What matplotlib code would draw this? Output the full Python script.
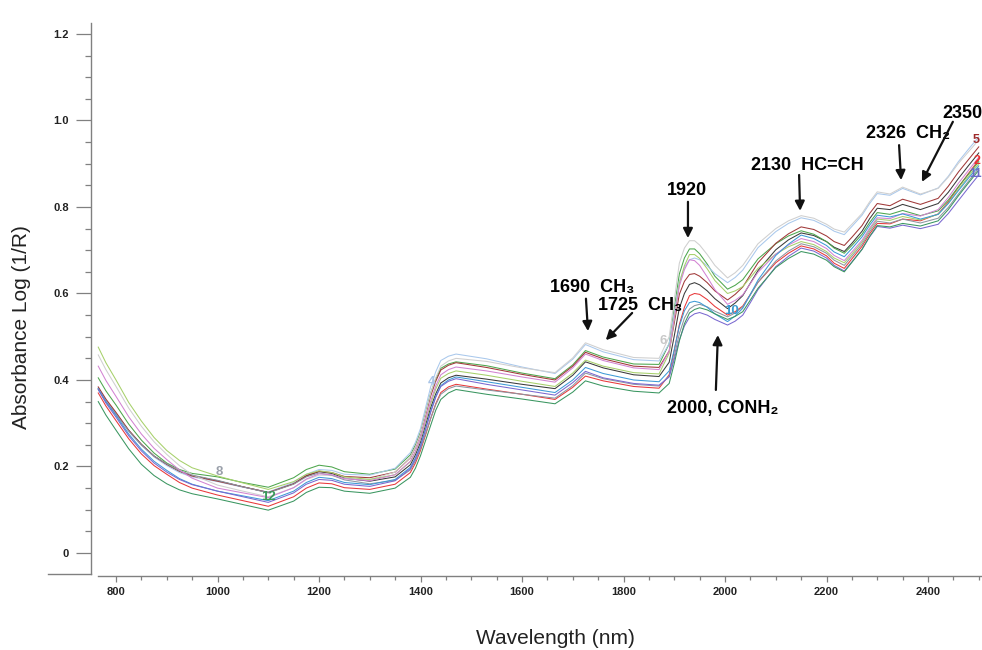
import matplotlib
matplotlib.use('Agg')
import matplotlib.pyplot as plt
from matplotlib.ticker import FixedLocator, MultipleLocator
from matplotlib.lines import Line2D

plt.rcParams['font.family'] = ['Liberation Sans', 'DejaVu Sans']

# ---------------- data ----------------
wavelength = [765, 780, 800, 825, 850, 875, 900, 925, 950, 1000,
              1050, 1100, 1150, 1175, 1200, 1225, 1250, 1300, 1350, 1380,
              1390, 1400, 1410, 1420, 1430, 1440, 1455, 1470, 1530, 1600,
              1665, 1700, 1725, 1760, 1820, 1870, 1890, 1900, 1910, 1920,
              1930, 1940, 1950, 1965, 1980, 2005, 2020, 2035, 2050, 2065,
              2100, 2125, 2150, 2175, 2200, 2215, 2235, 2250, 2270, 2285,
              2300, 2325, 2350, 2385, 2420, 2440, 2460, 2480, 2500]

s1 = [.380, .352, .322, .283, .251, .224, .205, .189, .179, .167,
      .153, .140, .160, .178, .188, .184, .173, .166, .176, .204,
      .227, .256, .296, .336, .368, .393, .405, .411, .402, .390,
      .380, .411, .442, .428, .412, .408, .441, .502, .566, .600,
      .621, .625, .620, .606, .588, .565, .578, .595, .624, .653,
      .701, .724, .740, .734, .720, .707, .697, .716, .744, .773,
      .797, .794, .806, .794, .808, .834, .866, .896, .925]
s2 = [.370, .340, .306, .264, .229, .202, .182, .163, .150, .134,
      .121, .108, .130, .150, .162, .160, .151, .147, .159, .186,
      .208, .237, .273, .311, .345, .371, .384, .390, .379, .367,
      .355, .383, .409, .398, .385, .381, .412, .468, .528, .568,
      .595, .600, .598, .586, .570, .550, .558, .571, .598, .626,
      .671, .693, .710, .703, .687, .670, .658, .680, .709, .738,
      .762, .761, .772, .768, .784, .812, .846, .878, .909]
s3 = [.405, .375, .342, .298, .261, .231, .208, .193, .184, .176,
      .163, .152, .174, .193, .203, .199, .188, .182, .194, .227,
      .250, .280, .325, .370, .402, .427, .437, .442, .433, .416,
      .403, .435, .468, .453, .437, .436, .484, .565, .645, .682,
      .703, .703, .692, .668, .640, .610, .619, .632, .656, .680,
      .715, .733, .745, .737, .720, .705, .693, .711, .737, .764,
      .787, .783, .792, .780, .791, .816, .847, .876, .905]
s4 = [.382, .353, .321, .281, .249, .222, .202, .186, .176, .165,
      .152, .141, .163, .182, .193, .191, .182, .180, .196, .232,
      .256, .288, .336, .384, .419, .445, .455, .460, .449, .430,
      .415, .448, .482, .465, .447, .444, .484, .556, .628, .660,
      .678, .682, .678, .664, .646, .625, .637, .654, .680, .706,
      .743, .762, .775, .769, .755, .744, .736, .755, .781, .808,
      .831, .827, .843, .828, .844, .871, .905, .934, .962]
s5 = [.384, .356, .325, .284, .251, .224, .205, .189, .178, .166,
      .153, .140, .160, .179, .189, .186, .177, .174, .187, .220,
      .244, .274, .318, .363, .397, .423, .434, .440, .429, .413,
      .400, .432, .464, .449, .432, .429, .467, .532, .598, .628,
      .644, .646, .640, .625, .606, .585, .598, .615, .643, .671,
      .716, .738, .754, .748, .733, .720, .711, .730, .757, .785,
      .808, .803, .818, .806, .820, .848, .881, .910, .939]
s6 = [.458, .424, .385, .335, .293, .257, .228, .202, .181, .157,
      .143, .130, .151, .170, .180, .179, .172, .170, .187, .221,
      .245, .276, .322, .369, .405, .432, .444, .450, .443, .428,
      .417, .451, .486, .470, .452, .450, .500, .585, .670, .705,
      .722, .722, .712, .690, .665, .636, .648, .665, .690, .715,
      .750, .768, .780, .774, .760, .749, .742, .760, .785, .812,
      .835, .830, .846, .830, .843, .869, .901, .928, .955]
s7 = [.476, .440, .400, .348, .305, .267, .237, .214, .197, .178,
      .162, .147, .165, .182, .190, .186, .176, .170, .181, .211,
      .234, .263, .304, .345, .379, .404, .415, .421, .411, .397,
      .385, .416, .446, .432, .417, .414, .462, .542, .623, .664,
      .690, .690, .681, .657, .630, .600, .606, .616, .637, .658,
      .691, .708, .720, .713, .697, .682, .671, .691, .719, .748,
      .772, .769, .778, .770, .783, .809, .841, .871, .900]
s8 = [.378, .350, .321, .282, .250, .224, .206, .190, .180, .168,
      .153, .139, .159, .176, .185, .180, .169, .160, .168, .192,
      .213, .241, .276, .311, .343, .367, .380, .386, .377, .367,
      .358, .387, .416, .403, .390, .386, .409, .455, .507, .543,
      .564, .572, .575, .569, .559, .546, .555, .569, .597, .626,
      .675, .698, .715, .708, .693, .677, .665, .686, .714, .743,
      .767, .763, .772, .763, .774, .799, .830, .860, .890]
s9 = [.432, .399, .362, .315, .275, .242, .216, .192, .173, .150,
      .139, .128, .151, .171, .183, .181, .172, .167, .181, .212,
      .235, .265, .308, .351, .386, .412, .424, .430, .421, .407,
      .395, .428, .460, .445, .428, .424, .467, .542, .617, .655,
      .678, .676, .665, .638, .609, .575, .584, .597, .623, .649,
      .691, .712, .727, .720, .704, .688, .676, .696, .723, .751,
      .775, .773, .785, .779, .794, .822, .855, .885, .915]
s10 = [.380, .350, .318, .275, .240, .212, .191, .172, .159, .143,
       .132, .121, .143, .163, .175, .172, .163, .158, .170, .198,
       .220, .249, .288, .328, .362, .387, .400, .407, .396, .383,
       .371, .400, .429, .415, .400, .396, .421, .470, .524, .560,
       .579, .582, .579, .568, .553, .535, .548, .566, .598, .631,
       .688, .714, .735, .727, .711, .696, .685, .704, .731, .758,
       .781, .777, .784, .772, .783, .808, .838, .867, .895]
s11 = [.378, .347, .314, .271, .236, .208, .187, .170, .158, .143,
       .130, .117, .139, .159, .170, .168, .159, .154, .167, .195,
       .217, .246, .285, .325, .360, .385, .397, .403, .390, .377,
       .365, .394, .420, .405, .392, .388, .407, .448, .493, .525,
       .545, .553, .556, .550, .540, .527, .536, .550, .579, .609,
       .662, .686, .705, .698, .682, .665, .652, .673, .702, .731,
       .755, .751, .758, .750, .760, .785, .815, .845, .874]
s12 = [.350, .319, .284, .241, .205, .179, .160, .146, .137, .125,
       .112, .099, .120, .140, .152, .151, .143, .138, .150, .175,
       .196, .225, .260, .295, .330, .355, .370, .378, .367, .356,
       .345, .372, .398, .386, .374, .370, .392, .438, .490, .530,
       .555, .563, .567, .562, .553, .540, .547, .558, .585, .612,
       .660, .681, .697, .691, .677, .662, .650, .672, .702, .732,
       .757, .754, .762, .756, .768, .794, .826, .856, .885]

sample_names = ['1', '2', '3', '4', '5', '6', '7', '8', '9', '10', '11', '12']
sample_colors = ['#3a3a3a', '#e8383a', '#4da64d', '#a9c8ec', '#a03838', '#cfcfcf',
                 '#a6d06a', '#8d95a0', '#d283d2', '#3d9ad6', '#7a68d0', '#3a9660']

# curve number labels
label_names = ['8', '12', '4', '6', '10', '5', '2', '11']
label_x = [1003, 1100, 1421, 1878, 2012, 2495, 2497, 2493]
label_y = [0.187, 0.129, 0.395, 0.490, 0.560, 0.955, 0.907, 0.876]
label_sizes = [9.5, 9.5, 9.5, 9.5, 9.5, 9, 9, 8.5]
label_colors = ['#9aa0aa', '#3a9a5a', '#a8c4e6', '#c8c8c8', '#3a9ad0', '#9e2a2a', '#e83030', '#6a6ac8']

# band annotations: text, text position, arrow tail, arrow head
band_texts = ['1690  CH\u2083', '1725  CH\u2083', '1920', '2000, CONH\u2082',
              '2130  HC=CH', '2326  CH\u2082', '2350']
band_text_x = [1655, 1750, 1886, 1886, 2051, 2278, 2428]
band_text_y = [0.615, 0.573, 0.839, 0.333, 0.897, 0.971, 1.017]
arrow_tail_x = [1726, 1817, 1927, 1982, 2146, 2343, 2449]
arrow_tail_y = [0.588, 0.555, 0.812, 0.377, 0.874, 0.943, 0.997]
arrow_head_x = [1730, 1765, 1927, 1986, 2148, 2347, 2388]
arrow_head_y = [0.513, 0.492, 0.728, 0.504, 0.791, 0.862, 0.858]

spectra = [s1, s2, s3, s4, s5, s6, s7, s8, s9, s10, s11, s12]

# ---------------- figure ----------------
W, H = 982, 650
fig = plt.figure(figsize=(W / 100, H / 100), dpi=100)
ax = fig.add_axes([91 / W, 74 / H, (W - 91) / W, 553 / H])

for vals, col, nm in zip(spectra, sample_colors, sample_names):
    ax.plot(wavelength, vals, color=col, lw=0.75, solid_joinstyle='round', label=nm)

ax.set_xlim(750.7, 2506.4)
ax.set_ylim(-0.0532, 1.2254)

gray = '#808080'
for side in ['top', 'right']:
    ax.spines[side].set_visible(False)
for side in ['left', 'bottom']:
    ax.spines[side].set_color(gray)
    ax.spines[side].set_linewidth(1.0)
ax.spines['left'].set_bounds(-0.0486, 1.2254)
ax.spines['bottom'].set_bounds(764.5, 2506.4)

ax.set_xticks(list(range(800, 2401, 200)))
ax.xaxis.set_minor_locator(MultipleLocator(50))
yt = [0, 0.2, 0.4, 0.6, 0.8, 1.0, 1.2]
ax.set_yticks(yt)
ax.set_yticklabels(['0', '0.2', '0.4', '0.6', '0.8', '1.0', '1.2'])
ax.yaxis.set_minor_locator(FixedLocator([v / 100 for v in range(5, 120, 5) if v % 20 != 0]))

ax.tick_params(axis='y', which='major', length=10.8, width=0.9, color=gray, pad=5,
               labelsize=8, labelcolor='#222222')
ax.tick_params(axis='y', which='minor', length=4, width=0.9, color=gray)
ax.tick_params(axis='x', which='major', length=4.3, width=0.9, color=gray, pad=3.5,
               labelsize=8, labelcolor='#222222')
ax.tick_params(axis='x', which='minor', length=2.7, width=0.9, color=gray)
for lab in ax.get_xticklabels() + ax.get_yticklabels():
    lab.set_fontweight('bold')

# small horizontal stub left of the y-axis bottom
fig.add_artist(Line2D([48 / W, 91 / W], [76 / H, 76 / H], color=gray, lw=1.0))

# curve number labels
for name, x, y, s, c in zip(label_names, label_x, label_y, label_sizes, label_colors):
    ax.text(x, y, name, color=c, fontsize=s, fontweight='bold', ha='center', va='center')

# band annotations
for t, tx, ty, ax0, ay0, ax1, ay1 in zip(band_texts, band_text_x, band_text_y,
                                         arrow_tail_x, arrow_tail_y, arrow_head_x, arrow_head_y):
    ax.text(tx, ty, t, fontsize=13, fontweight='bold', color='black', ha='left', va='center',
            family=['Liberation Sans', 'DejaVu Sans'])
    ax.annotate('', xy=(ax1, ay1), xytext=(ax0, ay0),
                arrowprops=dict(arrowstyle='-|>', color='#111111', lw=1.6,
                                mutation_scale=14, shrinkA=0, shrinkB=0))

# axis titles
fig.text(555 / W, 1 - 638 / H, 'Wavelength (nm)', fontsize=15, ha='center', va='center',
         color='#222222')
fig.text(22 / W, 1 - 327 / H, 'Absorbance Log (1/R)', fontsize=15, rotation=90,
         ha='center', va='center', color='#222222')

fig.savefig('out.png', dpi=100)
